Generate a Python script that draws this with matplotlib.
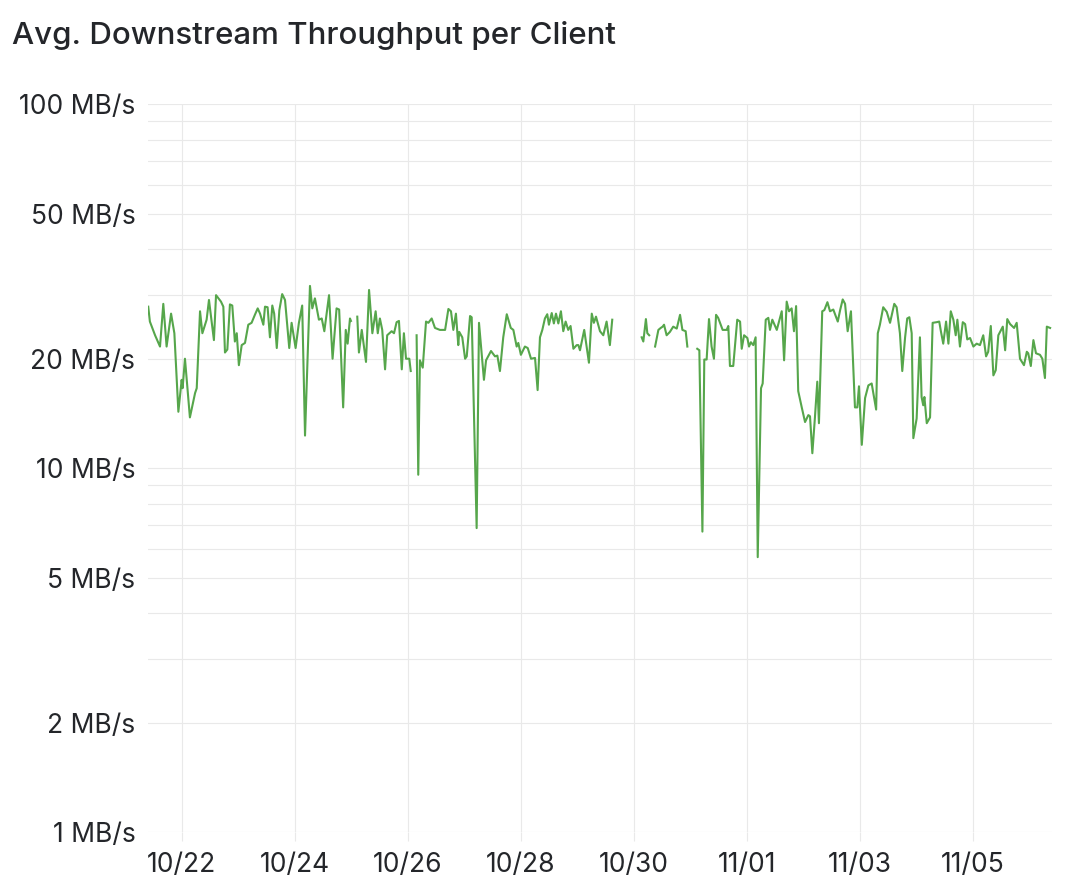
import matplotlib
matplotlib.use("Agg")
import matplotlib.pyplot as plt
import matplotlib.dates as mdates
import matplotlib.ticker as mticker
import numpy as np
import pandas as pd

plt.rcParams["font.family"] = ["Inter", "DejaVu Sans"]

title = "Avg. Downstream Throughput per Client"
start = pd.Timestamp("2023-10-21 00:00")

# hours since 10/21 00:00, NaN marks a hole in the series
hours = [
    9.8, 10.5, 12.7, 14.8, 16.2, 17.6, 19.5, 20.9, 22.6, 24.0, 24.4, 25.4, 27.5, 29.7, 30.4,
    31.8, 32.8, 34.6, 35.6, 37.7, 38.6, 40.7, 41.7, 42.4, 43.4, 44.5, 45.5, 46.6, 47.4, 48.3,
    49.5, 50.9, 52.3, 53.7, 55.1, 56.3, 57.3, 58.7, 59.4, 60.5, 61.5, 62.5, 63.3, 64.4, 65.5,
    66.7, 67.9, 69.7, 70.7, 72.4, 73.8, 75.2, 76.4, 78.5, 79.5, 80.6, 82.3, 83.5, 84.6, 86.6,
    88.1, 89.8, 90.9, 92.6, 93.7, 94.5, 95.5, 95.9, 97.0,
    98.6, 99.3, 100.5, 102.3, 103.6, 105.0, 106.4, 107.3, 108.2, 109.2, 110.4, 111.3, 113.2,
    114.2, 115.3, 116.3, 117.5, 118.4, 119.3, 120.7, 121.3, 122.5,
    123.8, 124.5, 125.2, 126.4, 127.8, 128.8, 130.2, 131.6, 133.7, 135.0, 135.9, 137.3, 138.4,
    139.4, 140.5, 141.5, 141.9, 143.2, 144.4, 145.1, 146.5, 147.2, 149.3, 150.3, 152.4, 153.3,
    155.4, 157.1, 158.1, 159.2, 160.6, 162.1, 163.8, 164.9, 166.3, 167.0, 168.1, 169.8, 171.0,
    172.4, 174.1, 175.2, 176.2, 177.2, 178.3, 179.3, 180.0, 181.2, 182.1, 183.0, 184.0, 185.1,
    186.1, 187.1, 188.2, 189.2, 190.4, 191.8, 192.5, 193.2, 195.0, 197.0, 198.2, 199.1, 200.0,
    201.7, 203.1, 204.5, 205.2, 205.9, 206.9, 212.0,
    219.4, 220.1, 221.2, 221.8, 222.6, 223.8,
    225.1, 226.5, 227.5, 228.3, 228.9, 230.0, 231.4, 232.8, 234.3, 235.7, 236.7, 238.1, 238.8,
    241.0,
    243.0, 243.9, 245.2, 246.0, 247.0, 248.0, 249.1, 250.1, 251.0, 251.9, 253.8, 255.5, 256.2,
    256.9, 258.3, 260.0, 261.2, 261.9, 262.9, 264.3, 265.0, 265.8, 266.8, 267.8, 268.7, 270.1,
    270.8, 272.1, 273.2, 273.9, 274.9, 276.8, 278.9, 279.9, 281.0, 282.0, 283.1, 284.1, 285.0,
    285.9, 287.4, 288.8, 290.2, 290.9, 291.9, 293.0, 294.0, 294.7, 296.1, 297.0, 298.3, 299.4,
    300.8, 302.7, 303.7, 304.8, 305.8, 306.9, 308.3, 310.0, 311.0, 311.7, 312.9, 314.3, 315.7,
    317.1, 319.0, 319.7, 320.6, 322.0, 323.5, 324.9, 326.7, 327.7, 329.1, 330.1, 331.3, 332.2,
    333.1, 334.1, 334.8, 336.2, 337.6, 338.3, 339.0, 339.5, 340.5, 341.9, 343.0, 344.7, 345.8,
    346.5, 347.5, 348.7, 349.7, 350.7, 351.8, 352.8, 353.5, 354.6, 355.8, 356.8, 357.7, 358.9,
    360.3, 361.7, 363.1, 364.5, 365.7, 366.6, 367.7, 368.8, 369.8, 370.9, 372.8, 373.8, 374.7,
    375.9, 377.6, 378.7, 380.1, 381.8, 383.0, 383.6, 384.7, 385.8, 386.9, 388.6, 389.6, 390.7,
    391.5, 392.9,
]

# MB/s
throughput = [
    27.8, 25.3, 23.2, 21.6, 28.3, 21.6, 26.6, 23.5, 14.3, 17.5, 16.6, 20.0, 13.8, 16.1, 16.6,
    27.0, 23.5, 25.6, 29.0, 22.5, 29.9, 28.7, 27.8, 20.8, 21.2, 28.2, 28.0, 22.3, 23.5, 19.2,
    21.8, 22.1, 24.8, 25.1, 26.4, 27.5, 26.6, 24.8, 27.8, 27.7, 22.9, 28.0, 26.6, 21.4, 27.2,
    30.1, 29.0, 21.4, 25.1, 21.4, 25.1, 28.0, 12.3, 31.7, 27.5, 29.3, 25.6, 25.8, 23.8, 29.9,
    20.0, 27.5, 27.3, 14.7, 24.0, 22.0, 25.8, 25.4, np.nan,
    26.1, 20.8, 24.0, 19.6, 30.9, 23.5, 27.0, 23.5, 25.8, 24.0, 18.7, 23.2, 23.8,
    23.5, 25.2, 25.4, 18.7, 23.5, 20.0, 20.0, 18.5, np.nan,
    23.2, 9.6, 19.8, 18.9, 25.3, 25.1, 25.8, 24.3, 24.0, 24.0, 24.0, 27.4, 27.0,
    24.0, 26.6, 21.8, 23.7, 22.9, 20.0, 20.3, 26.2, 26.0, 6.85, 25.1, 17.5, 19.8,
    21.0, 20.3, 20.4, 18.5, 22.9, 26.5, 24.3, 24.0, 21.6, 22.1, 20.5, 21.6, 21.4,
    20.0, 20.1, 16.4, 22.9, 24.0, 25.8, 26.5, 24.8, 26.7, 25.0, 26.6, 25.0, 27.0,
    23.8, 25.3, 24.0, 24.6, 21.3, 21.8, 21.8, 21.1, 24.0, 19.5, 26.6, 25.1, 26.1,
    23.8, 23.2, 25.3, 23.5, 21.8, 25.6, np.nan,
    22.9, 22.3, 25.7, 23.5, 23.2, np.nan,
    21.6, 24.0, 24.3, 24.5, 24.8, 23.2, 23.7, 24.5, 24.2, 26.4, 24.0, 23.8, 21.6,
    np.nan,
    21.3, 21.1, 6.7, 19.9, 19.9, 25.7, 21.6, 20.0, 26.4, 25.9, 24.0, 24.0, 24.6,
    19.1, 19.1, 25.6, 25.3, 21.3, 23.2, 22.8, 21.6, 22.2, 21.8, 22.9, 5.7, 16.6,
    17.1, 25.6, 25.9, 24.0, 25.6, 24.0, 27.0, 19.8, 28.7, 27.0, 27.5, 23.8, 27.9,
    16.3, 14.7, 13.4, 14.0, 13.9, 11.0, 13.8, 17.3, 13.3, 27.0, 27.2, 28.6, 27.0,
    27.3, 25.3, 27.2, 29.1, 28.3, 23.8, 27.0, 14.7, 14.7, 16.8, 11.6, 15.6, 16.9,
    17.1, 14.5, 23.5, 24.8, 27.7, 26.9, 25.1, 28.3, 27.7, 23.5, 18.5, 22.9, 25.8,
    26.0, 23.5, 12.1, 13.7, 22.9, 15.7, 14.9, 15.7, 13.3, 13.8, 25.1, 25.2, 25.3,
    23.8, 22.0, 25.3, 22.0, 27.0, 25.6, 23.2, 25.6, 21.6, 25.2, 24.9, 22.6, 22.8,
    21.6, 22.0, 21.8, 23.2, 20.3, 20.9, 24.6, 18.0, 18.6, 23.2, 24.5, 21.1, 25.7,
    24.9, 24.3, 25.1, 20.0, 19.2, 20.9, 20.7, 19.1, 22.5, 20.7, 20.5, 20.0, 17.7,
    24.5, 24.3,
]

y_ticks = [1, 2, 5, 10, 20, 50, 100]
x_ticks = pd.date_range("2023-10-22", "2023-11-05", freq="2D")

times = start + pd.to_timedelta(hours, unit="h")

fig = plt.figure(figsize=(10.67, 8.94), dpi=100)
ax = fig.add_axes([148 / 1067, 1 - 832.3 / 894, 904 / 1067, 728 / 894])

ax.plot(times, throughput, color="#56a64b", lw=1.5)

ax.set_yscale("log")
ax.set_ylim(1, 100)
ax.yaxis.set_major_locator(mticker.FixedLocator(y_ticks))
ax.yaxis.set_major_formatter(mticker.FuncFormatter(lambda v, p: f"{v:g} MB/s"))
ax.yaxis.set_minor_locator(mticker.LogLocator(base=10, subs=np.arange(2, 10)))
ax.yaxis.set_minor_formatter(mticker.NullFormatter())

ax.set_xlim(start + pd.Timedelta(hours=9.7), start + pd.Timedelta(hours=393.7))
ax.set_xticks(x_ticks)
ax.xaxis.set_major_formatter(mdates.DateFormatter("%m/%d"))

grid_c = "#e9e9e9"
ax.grid(True, which="both", axis="y", color=grid_c, lw=0.8)
ax.grid(True, which="major", axis="x", color=grid_c, lw=0.8)
ax.set_axisbelow(True)
for s in ax.spines.values():
    s.set_visible(False)

ax.tick_params(axis="y", which="both", length=0, pad=9, labelsize=19, labelcolor="#24262a")
ax.tick_params(axis="x", length=6.5, width=0.8, color=grid_c, pad=8, labelsize=19,
               labelcolor="#24262a")

fig.text(12 / 1067, 1 - 44.3 / 894, title, fontsize=22.5, fontweight="medium",
         color="#24262a", va="baseline", ha="left")

fig.savefig("out.png", dpi=100)
